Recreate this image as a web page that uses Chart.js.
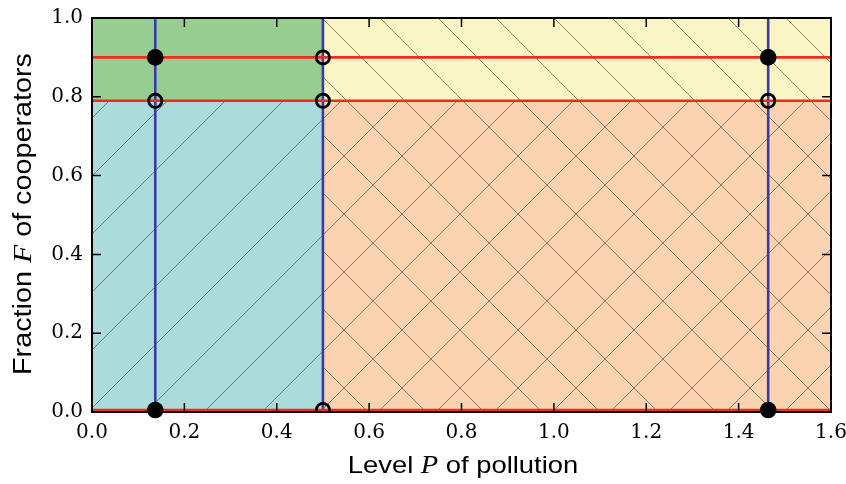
<!DOCTYPE html>
<html>
<head>
<meta charset="utf-8">
<script src="https://cdn.jsdelivr.net/npm/chart.js@4.4.1/dist/chart.umd.min.js"></script>
<style>
  html, body { margin: 0; padding: 0; background: #fff; }
</style>
</head>
<body>
<canvas id="chart" width="846" height="484"></canvas>
<script>
// axis ranges
var xRange = [0, 1.6];
var yRange = [0, 1.0];
var tickStep = 0.2;

// blue verticals (pollution levels P) and red horizontals (cooperator fractions F)
var pLevels = [0.137, 0.5, 1.464];
var fLevels = [0.9, 0.79, 0.005];

// shaded regions: [x0, x1] and [y0, y1]
var regionX = [[0, 0.5], [0, 0.5], [0.5, 1.6], [0.5, 1.6]];
var regionY = [[0.79, 1.0], [0, 0.79], [0.79, 1.0], [0, 0.79]];

// equilibria
var stableP = [0.137, 0.137, 1.464, 1.464];
var stableF = [0.9, 0.005, 0.9, 0.005];
var unstableP = [0.137, 0.5, 0.5, 0.5, 1.464];
var unstableF = [0.79, 0.9, 0.79, 0.005, 0.79];

// look
var regionColors = ['#96ce91', '#abdcdb', '#faf5c5', '#fbd3b0'];
var regionHatch = ['', '/', '\\', 'x'];
var redLine = 'rgb(245,40,30)';
var blueLine = 'rgb(58,58,168)';
var tickLabelFont = '20px "DejaVu Serif"';

function makeHatch(color, kind) {
    var s = 58;
    var c = document.createElement('canvas');
    c.width = s;
    c.height = s;
    var g = c.getContext('2d');
    g.fillStyle = color;
    g.fillRect(0, 0, s, s);
    g.strokeStyle = 'rgba(30,30,30,0.5)';
    g.lineWidth = 1;
    g.beginPath();
    for (var k = -1; k <= 1; k++) {
        if (kind == '/' || kind == 'x') {
            g.moveTo(k * s, s);
            g.lineTo(k * s + s, 0);
        }
        if (kind == '\\' || kind == 'x') {
            g.moveTo(k * s, 0);
            g.lineTo(k * s + s, s);
        }
    }
    g.stroke();
    var pat = g.createPattern(c, 'repeat');
    pat.setTransform(new DOMMatrix([1, 0, 0, 1, 25, 11]));
    return pat;
}

var datasets = [];

// regions, filled from their boundary line to the other edge
for (let i = 0; i < regionX.length; i++) {
    datasets.push({
        type: 'line',
        data: [{ x: regionX[i][0], y: regionY[i][0] }, { x: regionX[i][1], y: regionY[i][0] }],
        borderColor: 'transparent',
        borderWidth: 0,
        pointRadius: 0,
        backgroundColor: regionHatch[i] ? makeHatch(regionColors[i], regionHatch[i]) : regionColors[i],
        fill: { value: regionY[i][1] },
        order: 3
    });
}

for (let i = 0; i < pLevels.length; i++) {
    datasets.push({
        type: 'line',
        data: [{ x: pLevels[i], y: yRange[0] }, { x: pLevels[i], y: yRange[1] }],
        borderColor: blueLine,
        borderWidth: 2.6,
        pointRadius: 0,
        fill: false,
        order: 2
    });
}

for (let i = 0; i < fLevels.length; i++) {
    datasets.push({
        type: 'line',
        data: [{ x: xRange[0], y: fLevels[i] }, { x: xRange[1], y: fLevels[i] }],
        borderColor: redLine,
        borderWidth: 2.7,
        pointRadius: 0,
        fill: false,
        order: 1
    });
}

datasets.push({
    type: 'scatter',
    data: stableP.map((p, i) => ({ x: p, y: stableF[i] })),
    pointRadius: 8.3,
    backgroundColor: '#000',
    borderColor: '#000',
    borderWidth: 0,
    clip: false,
    order: 0
});

datasets.push({
    type: 'scatter',
    data: unstableP.map((p, i) => ({ x: p, y: unstableF[i] })),
    pointRadius: 6.6,
    backgroundColor: 'transparent',
    borderColor: '#000',
    borderWidth: 2.8,
    clip: 0,
    order: 0
});

// black box with inward ticks on all four sides, plus the tick labels
var framePlugin = {
    id: 'frame',
    afterDatasetsDraw(chart) {
        var c = chart.ctx, a = chart.chartArea;
        var xs = chart.scales.x, ys = chart.scales.y;
        var len = 9;
        c.save();
        c.strokeStyle = '#000';
        c.lineWidth = 1.5;
        c.beginPath();
        xs.ticks.forEach(t => {
            var px = xs.getPixelForValue(t.value);
            c.moveTo(px, a.bottom); c.lineTo(px, a.bottom - len);
            c.moveTo(px, a.top); c.lineTo(px, a.top + len);
        });
        ys.ticks.forEach(t => {
            var py = ys.getPixelForValue(t.value);
            c.moveTo(a.left, py); c.lineTo(a.left + len, py);
            c.moveTo(a.right, py); c.lineTo(a.right - len, py);
        });
        c.stroke();
        c.lineWidth = 2;
        c.strokeRect(a.left, a.top, a.right - a.left, a.bottom - a.top);

        c.fillStyle = '#000';
        c.font = tickLabelFont;
        c.textBaseline = 'middle';
        c.textAlign = 'center';
        xs.ticks.forEach(t => {
            c.fillText(t.value.toFixed(1), xs.getPixelForValue(t.value), a.bottom + 21);
        });
        c.textAlign = 'right';
        ys.ticks.forEach(t => {
            c.fillText(t.value.toFixed(1), a.left - 9, ys.getPixelForValue(t.value));
        });
        c.restore();
    }
};

// axis titles with an italic math letter
function drawTitle(c, parts, stretch) {
    var w = 0;
    parts.forEach(p => { c.font = p[1]; w += c.measureText(p[0]).width; });
    var x = -w / 2;
    c.scale(stretch, 1);
    parts.forEach(p => {
        c.font = p[1];
        c.fillText(p[0], x, 0);
        x += c.measureText(p[0]).width;
    });
}

var titlePlugin = {
    id: 'titles',
    afterDraw(chart) {
        var c = chart.ctx, a = chart.chartArea;
        var sans = '24px "Liberation Sans"';
        var ital = 'italic 25px "Liberation Serif"';
        c.save();
        c.fillStyle = '#000';
        c.textAlign = 'left';
        c.textBaseline = 'alphabetic';
        c.translate(463, 473);
        drawTitle(c, [['Level ', sans], ['P', ital], [' of pollution', sans]], 1.14);
        c.restore();

        c.save();
        c.fillStyle = '#000';
        c.textAlign = 'left';
        c.textBaseline = 'alphabetic';
        c.translate(31, (a.top + a.bottom) / 2 - 1);
        c.rotate(-Math.PI / 2);
        drawTitle(c, [['Fraction ', '25px "Liberation Sans"'], ['F', 'italic 26px "Liberation Serif"'], [' of cooperators', '25px "Liberation Sans"']], 1.15);
        c.restore();
    }
};

var Ctx = document.getElementById('chart');
var Chart1 = new Chart(Ctx, {
    type: 'scatter',
    data: { datasets: datasets },
    options: {
        responsive: false,
        animation: false,
        layout: { padding: { top: 18, right: 15, left: 0, bottom: 0 } },
        plugins: {
            legend: { display: false },
            tooltip: { enabled: false }
        },
        scales: {
            x: {
                type: 'linear',
                min: xRange[0],
                max: xRange[1],
                grid: { display: false },
                border: { display: false },
                ticks: { stepSize: tickStep, display: false, autoSkip: false },
                afterFit: s => { s.height = 72; s.paddingLeft = 0; s.paddingRight = 0; }
            },
            y: {
                type: 'linear',
                min: yRange[0],
                max: yRange[1],
                grid: { display: false },
                border: { display: false },
                ticks: { stepSize: tickStep, display: false, autoSkip: false },
                afterFit: s => { s.width = 92; s.paddingTop = 0; s.paddingBottom = 0; }
            }
        }
    },
    plugins: [framePlugin, titlePlugin]
});
</script>
</body>
</html>
